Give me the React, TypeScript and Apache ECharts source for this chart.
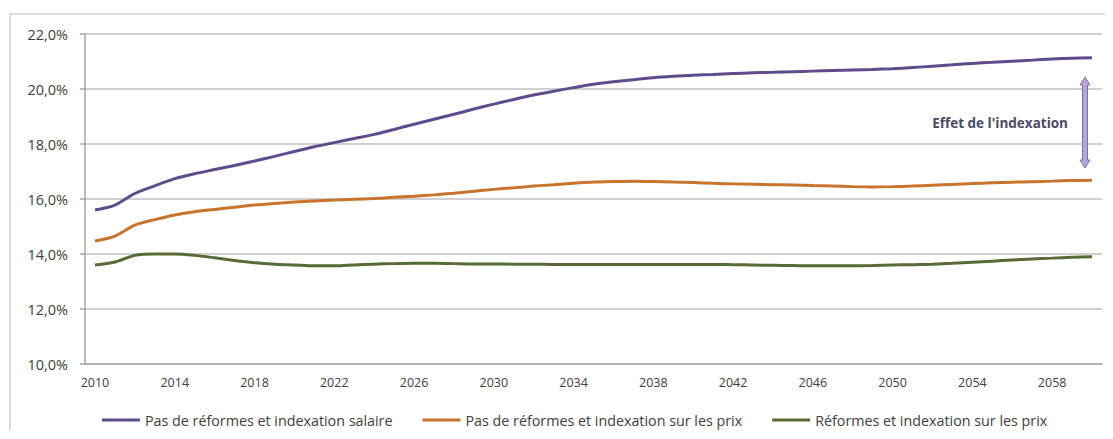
import React, { useEffect, useRef } from "react";
import * as echarts from "echarts";

// Years on the horizontal axis
const years: string[] = [];
for (let y = 2010; y <= 2060; y++) years.push(String(y));

// Share of GDP (%) under each scenario, 2010–2060
const salaireValues = [
  15.6, 15.78, 16.2, 16.48, 16.74, 16.92, 17.07, 17.22, 17.38, 17.55,
  17.73, 17.9, 18.05, 18.2, 18.35, 18.53, 18.72, 18.9, 19.08, 19.27,
  19.45, 19.62, 19.78, 19.92, 20.05, 20.17, 20.26, 20.34, 20.41, 20.46,
  20.5, 20.53, 20.56, 20.59, 20.61, 20.63, 20.65, 20.67, 20.69, 20.71,
  20.74, 20.78, 20.83, 20.88, 20.93, 20.97, 21.01, 21.05, 21.09, 21.12,
  21.14,
];

const prixValues = [
  14.47, 14.65, 15.05, 15.25, 15.42, 15.54, 15.62, 15.7, 15.78, 15.84,
  15.89, 15.93, 15.96, 15.99, 16.02, 16.06, 16.1, 16.15, 16.21, 16.28,
  16.35, 16.41, 16.47, 16.52, 16.57, 16.62, 16.64, 16.65, 16.64, 16.62,
  16.6, 16.57, 16.55, 16.54, 16.52, 16.51, 16.49, 16.47, 16.45, 16.44,
  16.45, 16.47, 16.5, 16.53, 16.56, 16.59, 16.61, 16.63, 16.65, 16.67,
  16.68,
];

const reformesValues = [
  13.6, 13.71, 13.95, 14.0, 14.0, 13.95, 13.86, 13.76, 13.68, 13.63,
  13.6, 13.57, 13.57, 13.6, 13.63, 13.65, 13.66, 13.66, 13.65, 13.64,
  13.64, 13.63, 13.63, 13.62, 13.62, 13.62, 13.62, 13.62, 13.62, 13.62,
  13.62, 13.62, 13.61, 13.6, 13.59, 13.58, 13.57, 13.57, 13.57, 13.58,
  13.6, 13.61, 13.63, 13.66, 13.7, 13.74, 13.78, 13.82, 13.85, 13.88,
  13.9,
];

const seriesNames = [
  "Pas de réformes et indexation salaire",
  "Pas de réformes et indexation sur les prix",
  "Réformes et indexation sur les prix",
];
const seriesColors = ["#5e4d8c", "#c8742c", "#586a35"];

const annotationText = "Effet de l'indexation";

const FONT = "'Open Sans', Lato, sans-serif";

export default function App() {
  const ref = useRef<HTMLDivElement>(null);

  useEffect(() => {
    if (!ref.current) return;
    const chart = echarts.init(ref.current, undefined, { renderer: "svg" });

    const values = [salaireValues, prixValues, reformesValues];

    chart.setOption({
      animation: false,
      backgroundColor: "#ffffff",
      textStyle: { fontFamily: FONT },
      grid: { left: 85, right: 11, top: 34, bottom: 75 },
      legend: {
        left: 97,
        top: 408,
        icon: "rect",
        itemWidth: 38,
        itemHeight: 3,
        itemGap: 30,
        textStyle: { fontFamily: FONT, fontSize: 14.3, color: "#404040" },
        data: seriesNames,
      },
      xAxis: {
        type: "category",
        data: years,
        boundaryGap: true,
        axisLine: { lineStyle: { color: "#a6a6a6", width: 1.5 } },
        axisTick: {
          interval: 0,
          length: 4,
          lineStyle: { color: "#a6a6a6", width: 1.5 },
        },
        axisLabel: {
          interval: 3,
          margin: 12,
          fontFamily: FONT,
          fontSize: 12.5,
          color: "#404040",
        },
      },
      yAxis: {
        type: "value",
        min: 10,
        max: 22,
        interval: 2,
        axisLine: { show: true, lineStyle: { color: "#a6a6a6", width: 1.5 } },
        axisTick: { show: true, length: 5, lineStyle: { color: "#a6a6a6", width: 1.5 } },
        splitLine: { lineStyle: { color: "#c0c0c0", width: 1.5 } },
        axisLabel: {
          margin: 17,
          fontFamily: FONT,
          fontSize: 14.5,
          color: "#404040",
          formatter: (v: number) => v.toFixed(1).replace(".", ",") + "%",
        },
      },
      series: seriesNames.map((name, i) => ({
        name,
        type: "line",
        data: values[i],
        smooth: 0.3,
        showSymbol: false,
        symbol: "none",
        lineStyle: { color: seriesColors[i], width: 3 },
        itemStyle: { color: seriesColors[i] },
      })),
      graphic: [
        {
          type: "rect",
          shape: { x: 10, y: 14, width: 1120, height: 440 },
          style: { fill: "none", stroke: "#d0d0d0", lineWidth: 1.5 },
          silent: true,
        },
        {
          type: "polygon",
          shape: {
            points: [
              [1085, 77],
              [1090, 85],
              [1087.5, 85],
              [1087.5, 160],
              [1090, 160],
              [1085, 168],
              [1080, 160],
              [1082.5, 160],
              [1082.5, 85],
              [1080, 85],
            ],
          },
          style: { fill: "#b4a7d6", stroke: "#7f6fab", lineWidth: 1 },
          z: 10,
        },
        {
          type: "text",
          x: 1068,
          y: 123,
          style: {
            text: annotationText,
            align: "right",
            verticalAlign: "middle",
            fontFamily: FONT,
            fontWeight: "bold",
            fontSize: 13.5,
            fill: "#4b4b66",
          },
          z: 10,
        },
      ],
    });

    return () => chart.dispose();
  }, []);

  return <div ref={ref} style={{ width: 1113, height: 439, margin: -8 }} />;
}
